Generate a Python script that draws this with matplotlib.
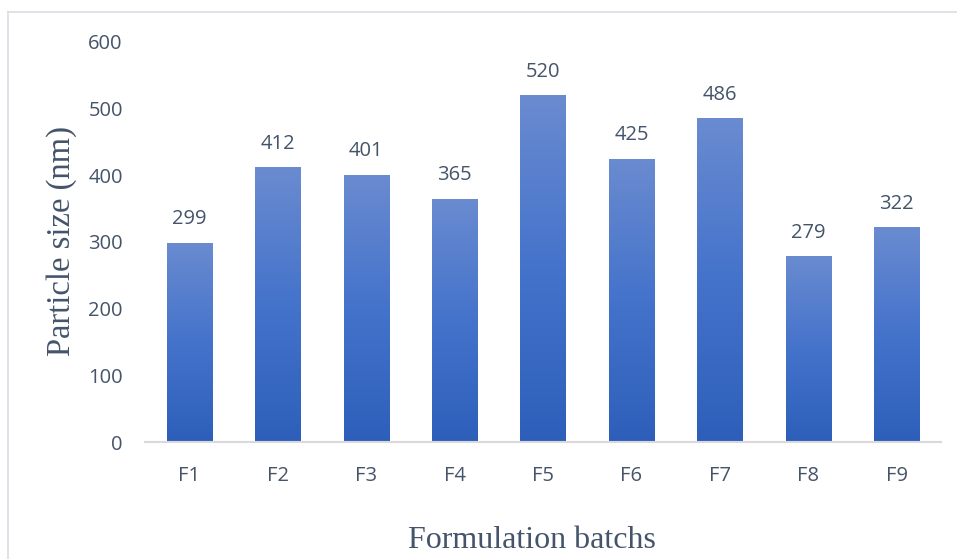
import numpy as np
import matplotlib
matplotlib.use("Agg")
import matplotlib.pyplot as plt
from matplotlib.colors import LinearSegmentedColormap
from matplotlib.lines import Line2D

categories = ["F1", "F2", "F3", "F4", "F5", "F6", "F7", "F8", "F9"]
particle_size = [299, 412, 401, 365, 520, 425, 486, 279, 322]
y_ticks = [0, 100, 200, 300, 400, 500, 600]

W, H = 957, 559
DPI = 100
text_color = "#44546a"
tick_fs = 14.5

fig = plt.figure(figsize=(W / DPI, H / DPI), dpi=DPI)
ax = fig.add_axes([145 / W, 1 - 442 / H, (941 - 145) / W, (442 - 42) / H])

x = np.arange(len(categories))
bars = ax.bar(x, particle_size, width=0.51, color="none", edgecolor="none", zorder=2)

# vertical gradient fill for each bar (light at top, dark at bottom)
grad_cmap = LinearSegmentedColormap.from_list(
    "blue_grad", ["#2d5fba", "#4473cb", "#6a8bd0"])
grad = np.linspace(0, 1, 256).reshape(-1, 1)
for b in bars:
    x0, w, h = b.get_x(), b.get_width(), b.get_height()
    im = ax.imshow(grad, cmap=grad_cmap, origin="lower", aspect="auto",
                   extent=[x0, x0 + w, 0, h], zorder=2, interpolation="bilinear")
    im.set_clip_path(b)

for xi, v in zip(x, particle_size):
    ax.annotate(f"{v}", (xi, v), xytext=(0, 9.5), textcoords="offset points",
                ha="center", va="bottom", fontsize=tick_fs, color=text_color,
                family="Open Sans")

ax.set_xlim(-0.5, len(categories) - 0.5)
ax.set_ylim(0, 600)
ax.set_xticks(x)
ax.set_xticklabels(categories)
ax.set_yticks(y_ticks)
ax.set_yticklabels([str(t) for t in y_ticks])
for lab in ax.get_xticklabels() + ax.get_yticklabels():
    lab.set_family("Open Sans")
    lab.set_fontsize(tick_fs)
    lab.set_color(text_color)
ax.tick_params(axis="both", length=0)
ax.tick_params(axis="x", pad=17)
ax.tick_params(axis="y", pad=16)

for s in ["top", "right", "left"]:
    ax.spines[s].set_visible(False)
ax.spines["bottom"].set_color("#d9d9d9")
ax.spines["bottom"].set_linewidth(1.5)
ax.spines["bottom"].set_zorder(3)

fig.text(62 / W, 1 - 241 / H, "Particle size (nm)", rotation=90,
         ha="center", va="center", fontsize=23.5, color=text_color,
         family="Liberation Serif")
fig.text(532 / W, 1 - 540 / H, "Formulation batchs",
         ha="center", va="center", fontsize=23, color=text_color,
         family="Liberation Serif")

# chart area border
border_c = "#d9dde3"
fig.add_artist(Line2D([8 / W, 1], [1 - 12 / H, 1 - 12 / H], color=border_c,
                      lw=1.2, transform=fig.transFigure))
fig.add_artist(Line2D([8 / W, 8 / W], [0, 1 - 12 / H], color=border_c,
                      lw=1.2, transform=fig.transFigure))

fig.savefig("out.png", dpi=DPI, facecolor="white")
